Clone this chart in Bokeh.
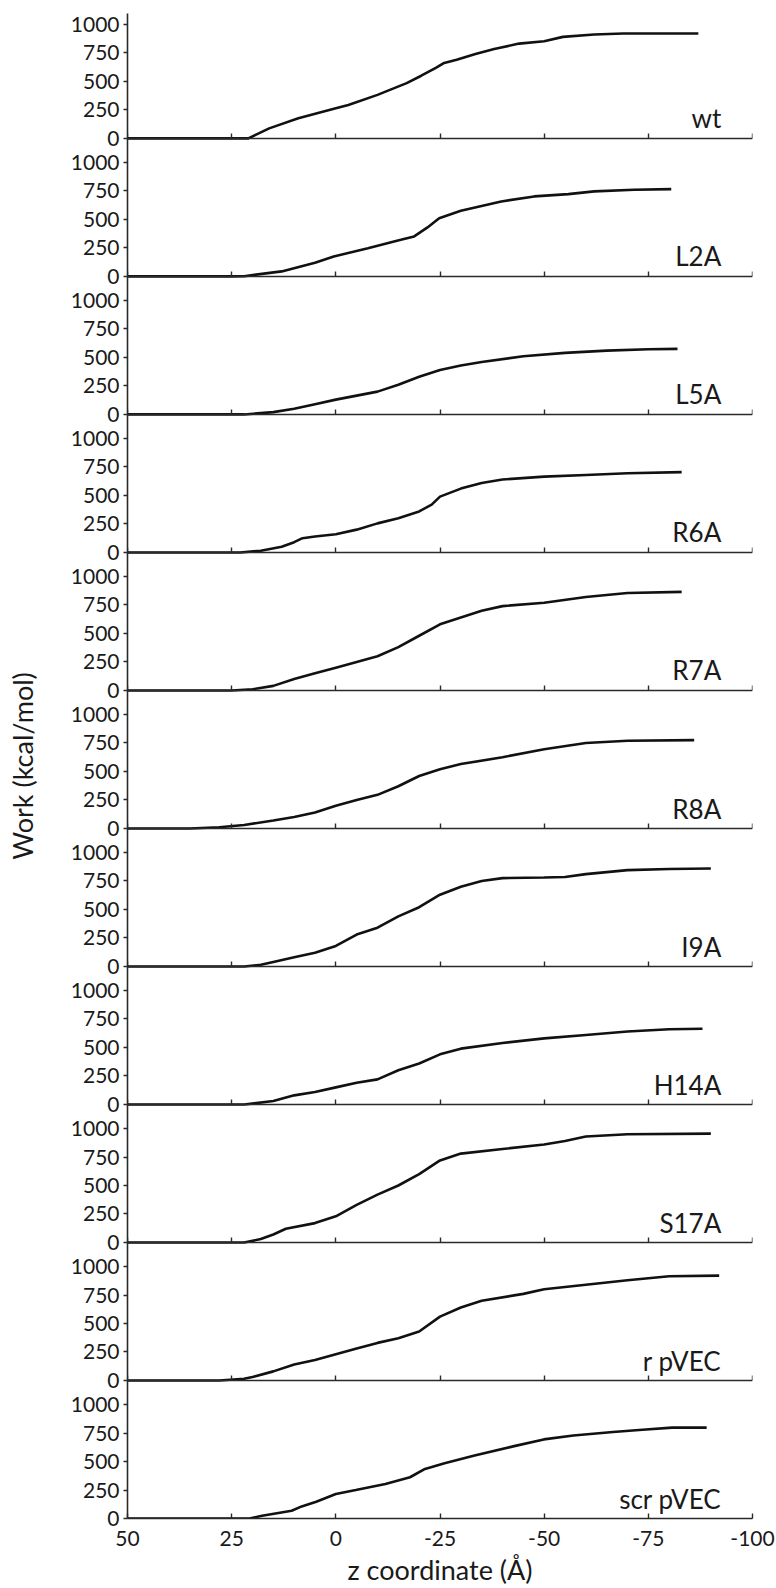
from bokeh.plotting import figure
from bokeh.models import Range1d, LinearAxis, FixedTicker
from bokeh.embed import file_html
from bokeh.resources import INLINE
from bokeh.core.properties import value

# ---------------- data ----------------
names = ["wt", "L2A", "L5A", "R6A", "R7A", "R8A", "I9A", "H14A", "S17A", "r pVEC", "scr pVEC"]

wt_z = [50, 21, 16, 9, 0, -3, -10, -17, -20.5, -24, -26, -29, -33.5, -38, -44, -50, -54.5, -62, -69, -87]
wt_w = [0, 0, 88, 176, 265, 294, 382, 485, 550, 618, 662, 691, 741, 785, 832, 853, 891, 912, 920, 920]

l2a_z = [50, 25, 22, 13, 5, 0.5, -7.7, -15.6, -18.8, -22, -24.8, -30, -39.7, -47.6, -55.8, -62, -71.6, -80.5]
l2a_w = [0, 0, 2, 44, 120, 175, 248, 321, 351, 430, 510, 576, 658, 702, 722, 746, 760, 766]

l5a_z = [50, 22, 15, 10, 5, 0, -5, -10, -15, -20, -25, -30, -35, -45, -55, -65, -75, -82]
l5a_w = [0, 0, 20, 50, 90, 130, 165, 200, 260, 330, 390, 430, 460, 510, 540, 560, 572, 575]

r6a_z = [50, 23, 18, 13, 10, 8, 5, 0, -5, -10, -15, -20, -23, -25, -30, -35, -40, -50, -60, -70, -83]
r6a_w = [0, 0, 15, 50, 90, 125, 140, 160, 200, 255, 300, 360, 420, 490, 560, 610, 640, 665, 680, 695, 705]

r7a_z = [50, 25, 20, 15, 10, 5, 0, -5, -10, -15, -20, -25, -30, -35, -40, -50, -60, -70, -83]
r7a_w = [0, 0, 10, 40, 100, 150, 200, 250, 300, 380, 480, 580, 640, 700, 740, 770, 820, 855, 865]

r8a_z = [50, 35, 28, 22, 15, 10, 5, 0, -5, -10, -15, -20, -25, -30, -40, -50, -60, -70, -86]
r8a_w = [0, 0, 10, 30, 70, 100, 140, 200, 250, 295, 370, 460, 520, 565, 625, 695, 750, 770, 775]

i9a_z = [50, 22, 18, 15, 10, 5, 0, -5, -10, -15, -20, -25, -30, -35, -40, -50, -55, -60, -70, -80, -90]
i9a_w = [0, 0, 15, 40, 80, 120, 180, 280, 340, 440, 520, 630, 700, 750, 775, 780, 785, 810, 845, 855, 860]

h14a_z = [50, 22, 15, 10, 5, 0, -5, -10, -15, -20, -25, -30, -40, -50, -60, -70, -80, -88]
h14a_w = [0, 0, 30, 80, 110, 150, 190, 220, 300, 360, 440, 490, 540, 580, 610, 640, 660, 665]

s17a_z = [50, 22, 18, 15, 12, 5, 0, -5, -10, -15, -20, -25, -30, -40, -50, -55, -60, -70, -90]
s17a_w = [0, 0, 30, 70, 120, 170, 230, 330, 420, 500, 600, 720, 780, 820, 860, 890, 930, 950, 955]

rpvec_z = [50, 28, 22, 20, 15, 10, 5, 0, -5, -10, -15, -20, -25, -30, -35, -45, -50, -60, -70, -80, -92]
rpvec_w = [0, 0, 15, 30, 80, 140, 180, 230, 280, 330, 370, 430, 560, 640, 700, 760, 800, 840, 880, 915, 920]

scr_z = [50, 20.7, 17.7, 10.6, 8.2, 4.7, 0, -4.8, -11.9, -17.8, -21.4, -26.1, -33.3, -42.8, -49.9, -57, -66.5, -73.6, -80.7, -89]
scr_w = [0, 0, 24, 68, 106, 147, 215, 250, 303, 362, 435, 485, 553, 635, 694, 729, 759, 779, 797, 797]

series_z = [wt_z, l2a_z, l5a_z, r6a_z, r7a_z, r8a_z, i9a_z, h14a_z, s17a_z, rpvec_z, scr_z]
series_w = [wt_w, l2a_w, l5a_w, r6a_w, r7a_w, r8a_w, i9a_w, h14a_w, s17a_w, rpvec_w, scr_w]

x_ticks = [50, 25, 0, -25, -50, -75, -100]
y_ticks = [0, 250, 500, 750, 1000]

# ---------------- layout constants ----------------
PANEL_SPAN = 1211      # data units per stacked panel
PANEL_TOP = 1096       # headroom above 1000 in the top panel
FONT = "Lato"
TXT = "#1a1a1a"
AX = "#2a2a2a"

n = len(names)
offsets = [(n - 1 - i) * PANEL_SPAN for i in range(n)]
top = offsets[0] + PANEL_TOP

p = figure(width=776, height=1588,
           x_range=Range1d(50, -100), y_range=Range1d(0, top),
           output_backend="svg", toolbar_location=None,
           min_border_left=127, min_border_right=24,
           min_border_top=13, min_border_bottom=69)
p.outline_line_color = None
p.xgrid.visible = False
p.ygrid.visible = False
p.background_fill_color = "white"
p.border_fill_color = "white"

# curves
for off, zs, ws in zip(offsets, series_z, series_w):
    p.line(zs, [w + off for w in ws], line_color="#111111", line_width=2.6)

# panel labels
p.text(x=-92.5, y=[off + 175 for off in offsets], text=names,
       text_align="right", text_baseline="alphabetic",
       text_font=value(FONT), text_font_size="26px", text_color=TXT)

# y axis with repeated 0..1000 labels per panel
yt = [off + t for off in offsets for t in y_ticks]
yax = p.yaxis[0]
yax.ticker = FixedTicker(ticks=yt)
yax.major_label_overrides = {off + t: str(t) for off in offsets for t in y_ticks}
yax.minor_tick_line_color = None
yax.major_tick_in = 0
yax.major_tick_out = 4
yax.major_label_standoff = 4
yax.axis_line_color = AX
yax.axis_line_width = 1.6
yax.major_tick_line_color = AX
yax.major_tick_line_width = 1.4
yax.major_label_text_font = FONT
yax.major_label_text_font_size = "21px"
yax.major_label_text_color = TXT
yax.axis_label = "Work (kcal/mol)"
yax.axis_label_text_font = FONT
yax.axis_label_text_font_size = "27px"
yax.axis_label_text_font_style = "normal"
yax.axis_label_text_color = TXT
yax.axis_label_standoff = 29

# bottom x axis (panel "scr pVEC")
xax = p.xaxis[0]
xax.ticker = FixedTicker(ticks=x_ticks)
xax.major_label_overrides = {t: str(t) for t in x_ticks}
xax.minor_tick_line_color = None
xax.major_tick_in = 5
xax.major_tick_out = 0
xax.major_label_standoff = 12
xax.axis_line_color = AX
xax.axis_line_width = 1.6
xax.major_tick_line_color = AX
xax.major_tick_line_width = 1.4
xax.major_label_text_font = FONT
xax.major_label_text_font_size = "21px"
xax.major_label_text_color = TXT
xax.axis_label = "z coordinate (Å)"
xax.axis_label_text_font = FONT
xax.axis_label_text_font_size = "27px"
xax.axis_label_text_font_style = "normal"
xax.axis_label_text_color = TXT
xax.axis_label_standoff = 4

# x axes at the zero line of every other panel
for off in offsets[:-1]:
    ax = LinearAxis(fixed_location=off, ticker=FixedTicker(ticks=x_ticks),
                    major_label_overrides={t: "" for t in x_ticks})
    ax.minor_tick_line_color = None
    ax.major_tick_in = 5
    ax.major_tick_out = 0
    ax.axis_line_color = AX
    ax.axis_line_width = 1.6
    ax.major_tick_line_color = AX
    ax.major_tick_line_width = 1.4
    ax.major_label_text_font_size = "1px"
    ax.major_label_standoff = 0
    p.add_layout(ax, "below")

open("out.html", "w").write(file_html(p, INLINE))
